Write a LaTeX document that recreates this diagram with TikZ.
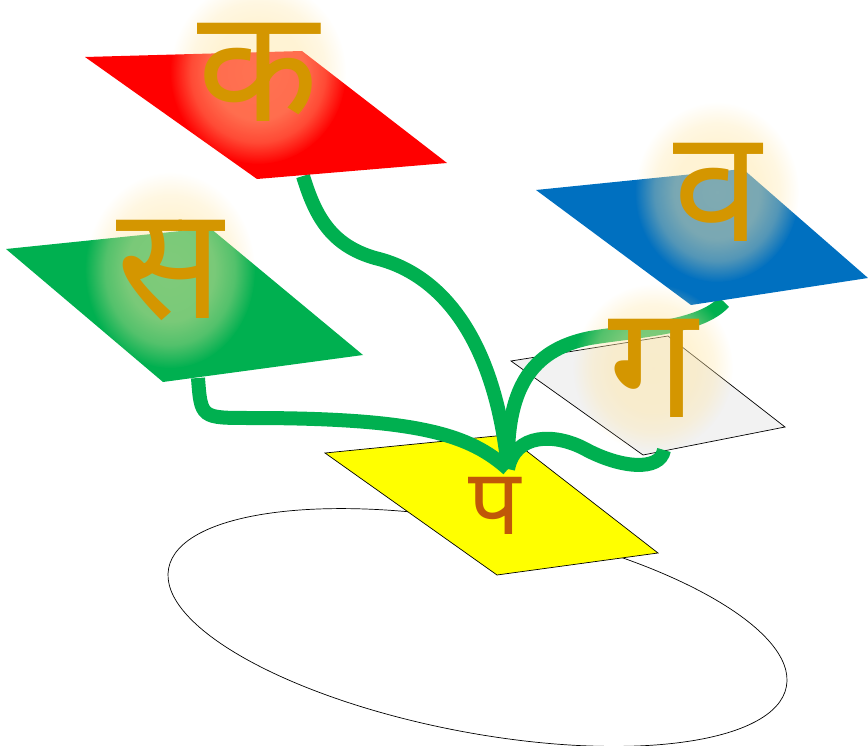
\documentclass[tikz,border=0pt]{standalone}
\usepackage{fontspec}
\usetikzlibrary{fadings}
\newfontfamily\deva[Script=Devanagari]{Noto Sans}
\definecolor{pred}{RGB}{255,0,0}
\definecolor{pgreen}{RGB}{0,176,80}
\definecolor{pblue}{RGB}{0,112,192}
\definecolor{pwhite}{RGB}{242,242,242}
\definecolor{pyellow}{RGB}{255,255,0}
\definecolor{gold}{RGB}{212,150,0}
\definecolor{rust}{RGB}{192,88,8}
\definecolor{glowc}{RGB}{255,230,165}
\pgfdeclareradialshading{glowshade}{\pgfpointorigin}{%
  color(0bp)=(pgftransparent!0); color(13bp)=(pgftransparent!5);
  color(19bp)=(pgftransparent!35); color(25bp)=(pgftransparent!100);
  color(50bp)=(pgftransparent!100)}
\pgfdeclarefading{glowfade}{\pgfuseshading{glowshade}}
\tikzset{
  edged/.style={draw=black, line width=0.7pt},
  tube/.style={draw=pgreen, line width=14pt, line cap=butt},
  glow/.style={fill=glowc, fill opacity=0.5, path fading=glowfade},
  glyph/.style={inner sep=0pt, font=\deva\fontsize{158}{158}\selectfont, text=gold},
  smallglyph/.style={inner sep=0pt, font=\deva\fontsize{92}{92}\selectfont, text=rust},
}
\begin{document}
\begin{tikzpicture}[x=1pt,y=-1pt]
\useasboundingbox (0,0) rectangle (868,746);
% ground ellipse
\draw[line width=0.7pt, rotate around={-10.85:(477.5,627.5)}] (477.5,627.5) ellipse (314.5 and 105);
% lower planes
\filldraw[fill=pyellow, edged] (325,453) -- (506,435) -- (658,553) -- (497,575) -- cycle;
\filldraw[fill=pwhite, edged] (511,361) -- (668,336) -- (785,427) -- (643,455) -- cycle;
% connector end points
\coordinate (hub) at (508,469);
\coordinate (redfoot) at (303,176);
\coordinate (greenfoot) at (198,378);
\coordinate (bluefoot) at (724,302);
\coordinate (whitefoot) at (664,450);
% tubes
\draw[tube] (redfoot) .. controls (315,215) and (330,245) .. (375,258)
  .. controls (435,272) and (494,330) .. (hub);
\draw[tube] (greenfoot) .. controls (201,418) .. (250,418)
  .. controls (420,418) and (470,435) .. (hub);
\draw[tube] (bluefoot) .. controls (700,328) and (640,330) .. (590,338)
  .. controls (530,350) and (506,390) .. (hub);
\draw[tube] (whitefoot) .. controls (660,472) and (620,468) .. (585,449)
  .. controls (555,433) and (515,433) .. (hub);
% upper planes
\fill[pred] (85,57) -- (302,51) -- (447,163) -- (257,179) -- cycle;
\fill[pgreen] (6,249) -- (210,228) -- (363,355) -- (163,382) -- cycle;
\fill[pblue] (536,190) -- (743,169) -- (868,278) -- (691,305) -- cycle;
% glyph positions
\coordinate (gka) at (258,72);
\coordinate (gsa) at (170,270);
\coordinate (gva) at (717,192);
\coordinate (gga) at (653,368);
% glows
\fill[glow] (gka) ellipse (88 and 92);
\fill[glow] (gsa) ellipse (85 and 98);
\fill[glow] (gva) ellipse (82 and 90);
\fill[glow] (gga) ellipse (80 and 84);
% glyphs
\node[glyph] (ka) at (gka) {क};
\node[glyph] (sa) at (gsa) {स};
\node[glyph] (va) at (gva) {व};
\node[glyph] (ga) at (gga) {ग};
\node[smallglyph] (pa) at (495,506) {प};
\end{tikzpicture}
\end{document}
